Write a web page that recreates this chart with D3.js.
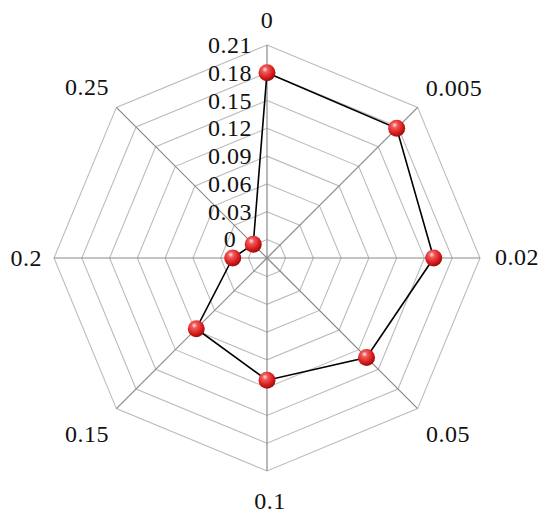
<!DOCTYPE html>
<html><head><meta charset="utf-8">
<script src="https://cdn.jsdelivr.net/npm/d3@7"></script>
<style>html,body{margin:0;padding:0;background:#fff;}</style>
</head><body>
<svg id="chart" width="550" height="521"></svg>
<script>
const categories = ["0", "0.005", "0.02", "0.05", "0.1", "0.15", "0.2", "0.25"];
const values = [0.180, 0.178, 0.160, 0.132, 0.112, 0.088, 0.017, 0.001];
const tickValues = [0, 0.03, 0.06, 0.09, 0.12, 0.15, 0.18, 0.21];
const tickLabels = ["0", "0.03", "0.06", "0.09", "0.12", "0.15", "0.18", "0.21"];

const svg = d3.select("#chart");
const cx = 267, cy = 258, R = 213;
const r = d3.scaleLinear().domain([-0.02, 0.21]).range([0, R]);
const ang = d3.scalePoint().domain(categories).range([0, 2 * Math.PI * 7 / 8]);
const pt = (c, v) => { const a = ang(c); return [cx + r(v) * Math.sin(a), cy - r(v) * Math.cos(a)]; };

const defs = svg.append("defs");
const g = defs.append("radialGradient").attr("id", "ball").attr("cx", "40%").attr("cy", "35%").attr("r", "65%").attr("fx", "38%").attr("fy", "30%");
g.append("stop").attr("offset", "0%").attr("stop-color", "#ffe9e9");
g.append("stop").attr("offset", "25%").attr("stop-color", "#f25a5a");
g.append("stop").attr("offset", "70%").attr("stop-color", "#d91c1c");
g.append("stop").attr("offset", "100%").attr("stop-color", "#9a0c0c");

const font = "Liberation Serif, Times New Roman, serif";

// rings
svg.append("g").selectAll("polygon").data(tickValues).join("polygon")
  .attr("points", v => categories.map(c => pt(c, v).join(",")).join(" "))
  .attr("fill", "none").attr("stroke", "#bcbcbc").attr("stroke-width", 1.1);

// spokes
svg.append("g").selectAll("line").data(categories).join("line")
  .attr("x1", cx).attr("y1", cy)
  .attr("x2", c => pt(c, 0.21)[0]).attr("y2", c => pt(c, 0.21)[1])
  .attr("stroke", "#8a8a8a").attr("stroke-width", 1.2);

// tick labels
svg.append("g").selectAll("text").data(tickValues).join("text")
  .attr("x", 230).attr("y", v => cy - r(v))
  .attr("text-anchor", "middle").attr("dominant-baseline", "central")
  .attr("font-family", font).attr("font-size", 24).attr("letter-spacing", "0.5px")
  .attr("fill", "#111")
  .text((v, i) => tickLabels[i]);

// category labels
const labelPos = {"0":[267,28,"middle"],"0.005":[454,96,"middle"],"0.02":[495,265,"start"],"0.05":[448,442,"middle"],
  "0.1":[270,509,"middle"],"0.15":[87,442,"middle"],"0.2":[42,266,"end"],"0.25":[87,95,"middle"]};
svg.append("g").selectAll("text").data(categories).join("text")
  .attr("x", c => labelPos[c][0]).attr("y", c => labelPos[c][1])
  .attr("text-anchor", c => labelPos[c][2])
  .attr("font-family", font).attr("font-size", 24).attr("letter-spacing", "0.5px")
  .attr("fill", "#111")
  .text(c => c);

// series line
const line = d3.line().curve(d3.curveLinearClosed);
svg.append("path")
  .attr("d", line(categories.map((c, i) => pt(c, values[i]))))
  .attr("fill", "none").attr("stroke", "#000").attr("stroke-width", 1.6);

// markers
svg.append("g").selectAll("circle").data(categories).join("circle")
  .attr("cx", (c, i) => pt(c, values[i])[0]).attr("cy", (c, i) => pt(c, values[i])[1])
  .attr("r", 8.5).attr("fill", "url(#ball)");
</script>
</body></html>
